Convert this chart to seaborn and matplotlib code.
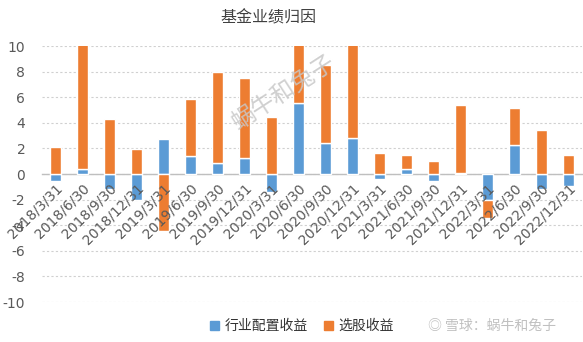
import matplotlib
matplotlib.use("Agg")
import matplotlib.pyplot as plt
import seaborn as sns
import numpy as np
import pandas as pd
from matplotlib.patches import Patch

dates = ["2018/3/31", "2018/6/30", "2018/9/30", "2018/12/31", "2019/3/31", "2019/6/30",
         "2019/9/30", "2019/12/31", "2020/3/31", "2020/6/30", "2020/9/30", "2020/12/31",
         "2021/3/31", "2021/6/30", "2021/9/30", "2021/12/31", "2022/3/31", "2022/6/30",
         "2022/9/30", "2022/12/31"]
industry = [-0.57, 0.39, -1.19, -2.05, 2.75, 1.40, 0.86, 1.27, -1.38, 5.56,
            2.42, 2.83, -0.42, 0.42, -0.57, 0.10, -2.00, 2.26, -1.14, -0.94]
stock = [2.13, 11.0, 4.31, 1.97, -4.48, 4.47, 7.09, 6.21, 4.47, 6.0,
         6.10, 8.5, 1.64, 1.06, 1.01, 5.28, -1.45, 2.91, 3.45, 1.48]
series_names = ["行业配置收益", "选股收益"]
yticks = [10, 8, 6, 4, 2, 0, -2, -4, -6, -8, -10]

BLUE = "#5B9BD5"
ORANGE = "#ED7D31"
TXT = "#595959"

sns.set_theme(style="white")
plt.rcParams["font.family"] = ["Noto Sans CJK SC", "DejaVu Sans"]
plt.rcParams["axes.unicode_minus"] = False

df = pd.DataFrame({"date": dates, "industry": industry, "stock": stock})
ind = np.array(industry)
stk = np.array(stock)
# Excel-style stacking: same-sign segments stack, opposite-sign start at 0
stock_bottom = np.where(np.sign(stk) == np.sign(ind), ind, 0.0)

fig = plt.figure(figsize=(5.83, 3.42), dpi=100)
ax = fig.add_axes([42 / 583, 1 - 302 / 342, 540 / 583, 256 / 342])

sns.barplot(data=df, x="date", y="industry", color=BLUE, width=0.4,
            saturation=1, ax=ax, order=dates, zorder=2)
ax.bar(np.arange(len(dates)), stk, bottom=stock_bottom, width=0.4, color=ORANGE, zorder=2)

ax.set_ylim(-10, 10)
ax.set_xlim(-0.5, len(dates) - 0.5)
ax.set_yticks(yticks)
ax.set_yticklabels([str(v) for v in yticks], fontsize=10, color=TXT,
                   family=["DejaVu Sans"])
ax.yaxis.grid(True, color="#d0d0d0", linestyle=(0, (2, 2)), linewidth=0.8)
ax.set_axisbelow(True)
ax.xaxis.set_zorder(5)
ax.set_xlabel("")
ax.set_ylabel("")
for s in ["left", "right", "top"]:
    ax.spines[s].set_visible(False)
ax.spines["bottom"].set_position(("data", 0))
ax.spines["bottom"].set_color("#bfbfbf")
ax.spines["bottom"].set_linewidth(1.0)
ax.spines["bottom"].set_zorder(1)
ax.tick_params(axis="both", length=0)
ax.tick_params(axis="y", pad=12)
ax.tick_params(axis="x", pad=5)
ax.set_xticks(np.arange(len(dates)))
ax.set_xticklabels(dates, rotation=45, ha="right", rotation_mode="anchor",
                   fontsize=10, color=TXT, family=["DejaVu Sans"])

fig.text(268 / 583, 1 - 18 / 342, "基金业绩归因", ha="center", va="center",
         fontsize=11.5, color="#404040")

# watermark
fig.text(284 / 583, 1 - 94 / 342, "蜗牛和兔子", ha="center", va="center",
         rotation=33, fontsize=17, color="#c8c8c8", alpha=0.85)

handles = [Patch(facecolor=BLUE, edgecolor=BLUE), Patch(facecolor=ORANGE, edgecolor=ORANGE)]
fig.legend(handles, series_names, loc="center", bbox_to_anchor=(302 / 583, 1 - 326 / 342),
           ncol=2, frameon=False, fontsize=10, handlelength=0.6, handleheight=0.6,
           handletextpad=0.4, columnspacing=1.2, labelcolor="#333333")

fig.text(492 / 583, 1 - 326 / 342, "◎ 雪球：蜗牛和兔子", ha="center", va="center",
         fontsize=10, color="#c0c0c0", family=["Noto Sans CJK SC", "DejaVu Sans"])

fig.savefig("out.png", dpi=100)
